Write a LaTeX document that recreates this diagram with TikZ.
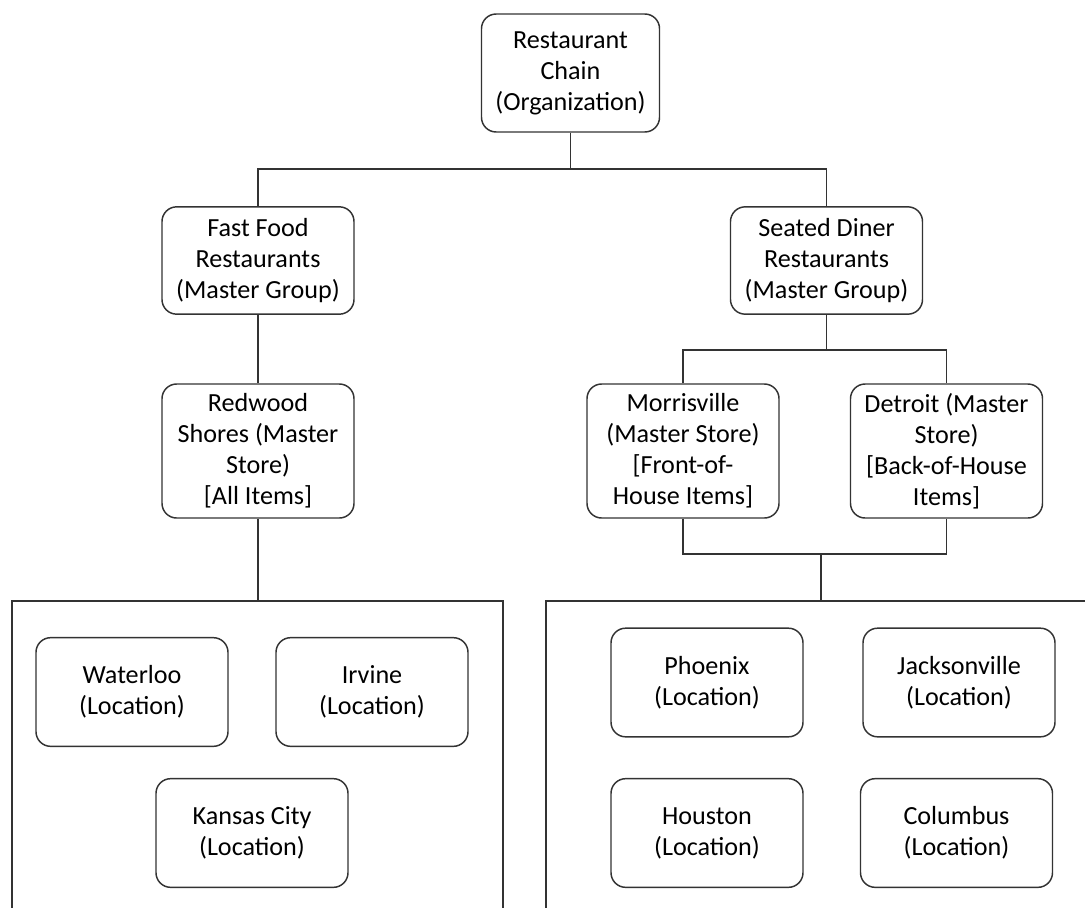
\documentclass[tikz,border=0pt]{standalone}
\usepackage{fontspec}
\setmainfont{Carlito}
\begin{document}
\begin{tikzpicture}[x=0.75pt,y=-0.75pt,
  box/.style={draw=black!80, line width=1.1pt, rounded corners=11pt, align=center, inner sep=0pt,
    font=\fontsize{19.6}{23.3}\selectfont, text=black, minimum width=144pt},
  shortbox/.style={box, minimum height=80.5pt},
  tallbox/.style={box, minimum height=100.5pt},
  locbox/.style={box, minimum height=81.5pt},
  link/.style={draw=black!80, line width=1.1pt}]
\useasboundingbox (0,0) rectangle (1085,907);

\node[box, minimum width=133.5pt, minimum height=88.5pt] (chain) at (570.5,73) {Restaurant\\Chain\\(Organization)};
\node[shortbox] (ff) at (258,260.5) {Fast Food\\Restaurants\\(Master Group)};
\node[shortbox] (sd) at (826.5,260.5) {Seated Diner\\Restaurants\\(Master Group)};
\node[tallbox] (rw) at (258,451) {Redwood\\Shores (Master\\Store)\\{[All Items]}};
\node[tallbox] (mv) at (683,451) {Morrisville\\(Master Store)\\{[Front-of-}\\House Items]};
\node[tallbox] (dt) at (946.5,451) {Detroit (Master\\Store)\\{[Back-of-House}\\Items]};

\node[locbox] (wl) at (132,692) {Waterloo\\(Location)};
\node[locbox] (ir) at (372,692) {Irvine\\(Location)};
\node[locbox] (kc) at (252,833) {Kansas City\\(Location)};
\node[locbox] (ph) at (707,682.5) {Phoenix\\(Location)};
\node[locbox] (jv) at (959,682.5) {Jacksonville\\(Location)};
\node[locbox] (hu) at (707,833) {Houston\\(Location)};
\node[locbox] (co) at (956.5,833) {Columbus\\(Location)};

% containers (open at the bottom)
\coordinate (lct) at (258,601);
\coordinate (rct) at (821,601);
\draw[link] (12,908) -- (12,601) -- (503,601) -- (503,908);
\draw[link] (546,908) -- (546,601) -- (1086,601);

% connectors
\coordinate (bus1) at (570.5,169);
\draw[link] (chain.south) -- (bus1);
\draw[link] (ff.north) |- (bus1) -| (sd.north);
\draw[link] (ff.south) -- (rw.north);
\draw[link] (rw.south) -- (lct);
\coordinate (bus2) at (826.5,350);
\draw[link] (sd.south) -- (bus2);
\draw[link] (mv.north) |- (bus2) -| (dt.north);
\coordinate (bus3) at (821,554);
\draw[link] (mv.south) |- (bus3) -| (dt.south);
\draw[link] (bus3) -- (rct);
\end{tikzpicture}
\end{document}
